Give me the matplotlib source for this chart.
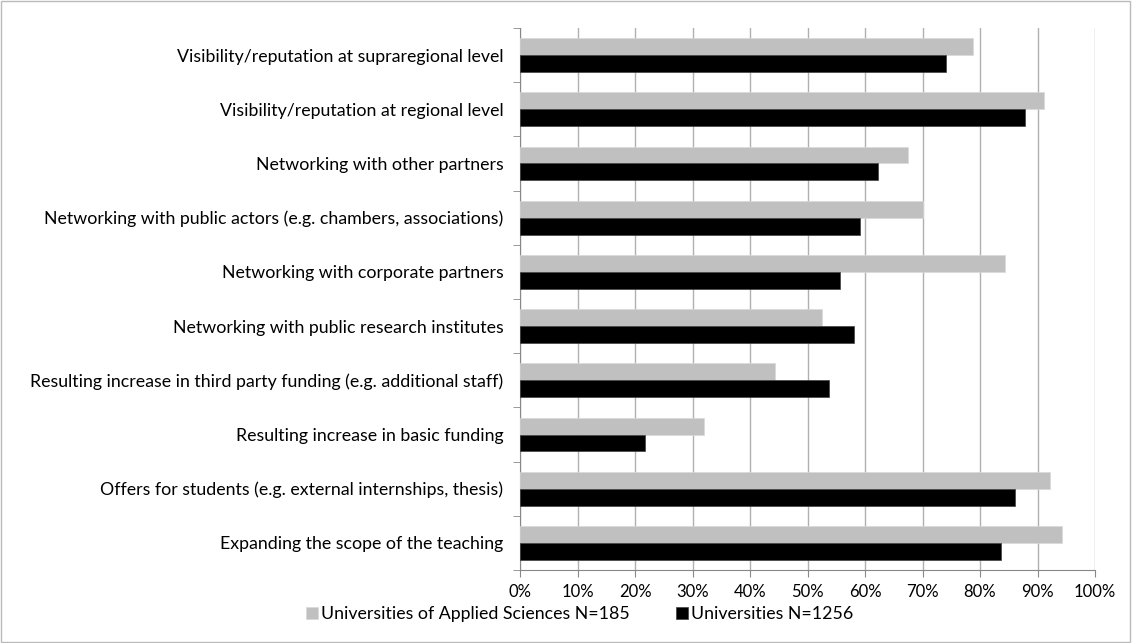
import numpy as np
import matplotlib.pyplot as plt
from matplotlib.patches import Rectangle

plt.rcParams['font.family'] = ['Lato', 'DejaVu Sans']

categories = [
    'Visibility/reputation at supraregional level',
    'Visibility/reputation at regional level',
    'Networking with other partners',
    'Networking with public actors (e.g. chambers, associations)',
    'Networking with corporate partners',
    'Networking with public research institutes',
    'Resulting increase in third party funding (e.g. additional staff)',
    'Resulting increase in basic funding',
    'Offers for students (e.g. external internships, thesis)',
    'Expanding the scope of the teaching',
]
uas = [78.8, 91.1, 67.5, 70.1, 84.4, 52.5, 44.3, 32.0, 92.1, 94.2]
uni = [74.1, 87.9, 62.3, 59.1, 55.7, 58.0, 53.7, 21.8, 86.0, 83.6]
uas_label = 'Universities of Applied Sciences N=185'
uni_label = 'Universities N=1256'
xticks = np.arange(0, 101, 10)

fs = 12.8
fig = plt.figure(figsize=(11.32, 6.43), dpi=100)
ax = fig.add_axes([520 / 1132, 1 - 570 / 643, 575 / 1132, 542 / 643])

n = len(categories)
y = np.arange(n)[::-1]
h = 0.31
ax.barh(y + h / 2, uas, height=h, color='#c0c0c0', edgecolor='#d8d8d8', linewidth=0.5,
        label=uas_label, zorder=3)
ax.barh(y - h / 2, uni, height=h, color='black', edgecolor='#404040', linewidth=0.5,
        label=uni_label, zorder=3)

ax.set_xlim(0, 100)
ax.set_ylim(-0.5, n - 0.5)
ax.set_xticks(xticks)
ax.set_xticklabels([f'{t}%' for t in xticks], fontsize=12)
ax.set_yticks(y)
ax.set_yticklabels(categories, fontsize=fs)
ax.set_yticks(np.arange(n + 1) - 0.5, minor=True)
ax.tick_params(axis='y', which='major', length=0, pad=12)
ax.tick_params(axis='y', which='minor', length=5, color='#888888')
ax.tick_params(axis='x', length=5, color='#888888', pad=5)
ax.grid(axis='x', color='#b0b0b0', linewidth=1, zorder=0)
for s in ['top', 'right']:
    ax.spines[s].set_visible(False)
for s in ['left', 'bottom']:
    ax.spines[s].set_color('#888888')

fig.legend(loc='center', bbox_to_anchor=(580 / 1132, 1 - 614 / 643), ncol=2,
           frameon=False, fontsize=fs, handlelength=0.65, handleheight=0.65,
           handletextpad=0.2, columnspacing=2.6)

fig.patches.append(Rectangle((0.001, 0.001), 0.997, 0.997, transform=fig.transFigure,
                             fill=False, edgecolor='#bbbbbb', linewidth=1))

fig.savefig('out.png', dpi=100)
